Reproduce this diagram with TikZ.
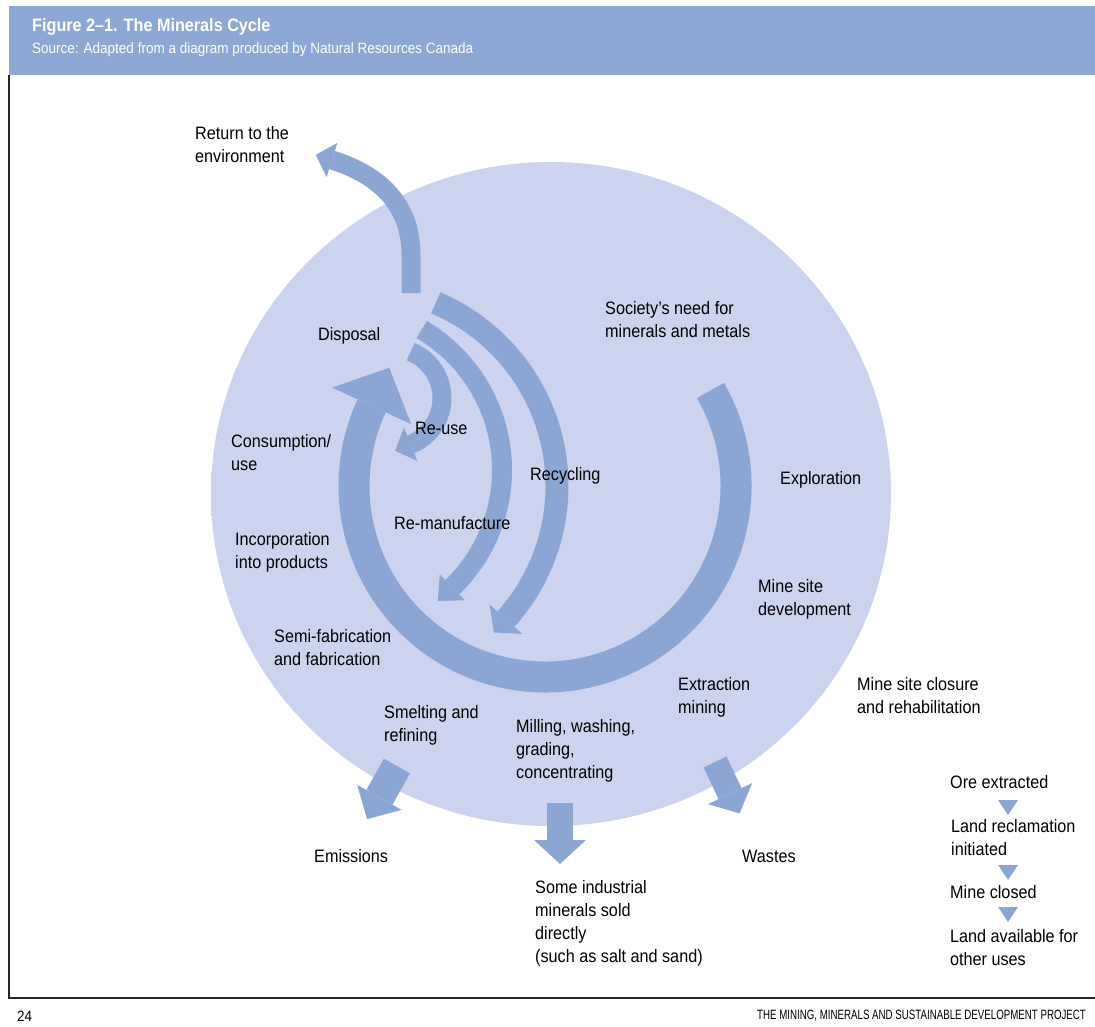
\documentclass[tikz,border=0pt]{standalone}
\usepackage{fontspec}
\setmainfont[FakeStretch=0.9]{Liberation Sans}
\newfontfamily\footfont[FakeStretch=0.72]{Liberation Sans}
\usetikzlibrary{calc}

\definecolor{barblue}{HTML}{8EA8D5}
\definecolor{flowblue}{HTML}{8CA6D4}
\definecolor{discfill}{HTML}{CBD3EE}
\definecolor{discrim}{HTML}{C3CBEB}

% soft-edged disc behind the cycle
\pgfdeclareradialshading{halo}{\pgfpoint{0bp}{0bp}}{%
  color(0bp)=(discfill); color(42.5bp)=(discfill); color(46bp)=(discrim); color(50bp)=(white)}

% filled arrow head: base point, direction, length, half width
\newcommand\flowhead[4]{%
  \fill[flowblue] ($(#1)+(#2+90:#4)$) -- ($(#1)+(#2:#3)$) -- ($(#1)+(#2-90:#4)$) -- cycle;}

\begin{document}
\begin{tikzpicture}[x=1pt,y=-1pt,
  lbl/.style={anchor=west, align=left, inner sep=0pt, font=\fontsize{18}{23}\selectfont},
  flow/.style={draw=flowblue, line cap=butt},
  stepmark/.style={fill=flowblue}]
\useasboundingbox (0,0) rectangle (1095,1027);

% header bar
\fill[barblue] (9,6) rectangle (1095,75);
\node[anchor=west, inner sep=0pt, text=white, font=\bfseries\fontsize{18}{22}\selectfont]
  (figtitle) at (32,27) {Figure 2–1. The Minerals Cycle};
\node[anchor=west, inner sep=0pt, text=white, font=\fontsize{15}{18}\selectfont]
  (figsource) at (32,50) {Source: Adapted from a diagram produced by Natural Resources Canada};

% frame
\draw[line width=2pt, black!85] (9,75) -- (9,998) -- (1096,998);

% footer
\node[anchor=west, inner sep=0pt, font=\fontsize{15}{18}\selectfont] (pageno) at (17,1016) {24};
\node[anchor=west, inner sep=0pt, font=\footfont\fontsize{13.5}{16}\selectfont]
  (runhead) at (757,1016) {THE MINING, MINERALS AND SUSTAINABLE DEVELOPMENT PROJECT};

% disc
\shade[shading=halo] (551,494) ellipse [x radius=340, y radius=332];

% main cycle
\coordinate (ringc) at (545,486);
\draw[flow, line width=31pt] ($(ringc)+(-30:191)$) arc[start angle=-30, end angle=204.8, radius=191] coordinate (ringend);
\flowhead{ringend}{-65.2}{42}{43.5}

% recycling
\coordinate (recc) at (358,486);
\draw[flow, line width=23pt] ($(recc)+(-67:199)$) arc[start angle=-67, end angle=42, radius=199] coordinate (recend);
\flowhead{recend}{132}{18}{22}

% re-manufacture
\coordinate (manc) at (339,470);
\draw[flow, line width=20pt] ($(manc)+(-59.5:163)$) arc[start angle=-59.5, end angle=46, radius=163] coordinate (manend);
\flowhead{manend}{136}{20}{18}

% re-use
\coordinate (usec) at (392,398);
\draw[flow, line width=19pt] ($(usec)+(-68:50)$) arc[start angle=-68, end angle=68, radius=50] coordinate (useend);
\flowhead{useend}{158}{17}{18}

% return to the environment
\coordinate (retstart) at (411,293);
\coordinate (retend) at (332,160);
\draw[flow, line width=19pt] (retstart) -- (411,255) .. controls (411,205) and (380,175) .. (retend);
\flowhead{retend}{197.5}{17}{18}

% outputs
\coordinate (emisstart) at (397,766);
\coordinate (emisbase) at ($(emisstart)+(119.4:36)$);
\draw[flow, line width=30pt] (emisstart) -- (emisbase);
\flowhead{emisbase}{119.4}{25}{25.5}

\coordinate (soldstart) at (560,803);
\coordinate (soldbase) at (560,840);
\draw[flow, line width=26pt] (soldstart) -- (soldbase);
\flowhead{soldbase}{90}{24}{26}

\coordinate (wastestart) at (715,762);
\coordinate (wastebase) at ($(wastestart)+(64.5:35)$);
\draw[flow, line width=25.5pt] (wastestart) -- (wastebase);
\flowhead{wastebase}{64.5}{22}{24.5}

% closure sequence markers
\fill[stepmark] (998,800) -- (1018,800) -- (1008,815) -- cycle;
\fill[stepmark] (998,865) -- (1018,865) -- (1008,880) -- cycle;
\fill[stepmark] (998,907) -- (1018,907) -- (1008,922) -- cycle;

% labels
\node[lbl] (lret) at (195,145) {Return to the\\environment};
\node[lbl] (ldisp) at (318,336) {Disposal};
\node[lbl] (lsoc) at (605,320) {Society's need for\\minerals and metals};
\node[lbl] (lreuse) at (415,428) {Re-use};
\node[lbl] (lcons) at (231,453) {Consumption/\\use};
\node[lbl] (lrecyc) at (530,476) {Recycling};
\node[lbl] (lexpl) at (780,480) {Exploration};
\node[lbl] (lreman) at (394,523) {Re-manufacture};
\node[lbl] (lincorp) at (235,552) {Incorporation\\into products};
\node[lbl] (lmsd) at (758,599) {Mine site\\development};
\node[lbl] (lsemi) at (274,648) {Semi-fabrication\\and fabrication};
\node[lbl] (lextr) at (678,697) {Extraction\\mining};
\node[lbl] (lclos) at (857,696) {Mine site closure\\and rehabilitation};
\node[lbl] (lsmelt) at (384,725) {Smelting and\\refining};
\node[lbl] (lmill) at (516,751) {Milling, washing,\\grading,\\concentrating};
\node[lbl] (lemis) at (314,856) {Emissions};
\node[lbl] (lwaste) at (742,856) {Wastes};
\node[lbl] (lsold) at (535,923) {Some industrial\\minerals sold\\directly\\(such as salt and sand)};
\node[lbl] (lore) at (950,782) {Ore extracted};
\node[lbl] (lland) at (951,838) {Land reclamation\\initiated};
\node[lbl] (lclosed) at (950,892) {Mine closed};
\node[lbl] (lavail) at (950,948) {Land available for\\other uses};
\end{tikzpicture}
\end{document}
